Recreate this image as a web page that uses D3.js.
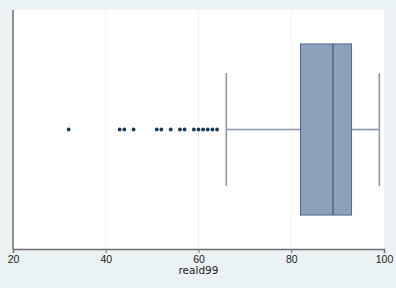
<!DOCTYPE html>
<html>
<head>
<meta charset="utf-8">
<script src="https://cdn.jsdelivr.net/npm/d3@7"></script>
<style>
body{margin:0;background:#eaf2f3;}
svg{display:block;font-family:"DejaVu Sans",sans-serif;}
</style>
</head>
<body>
<div class="viz"></div>
<script>
// reald99 summary
const boxStats=[{q1:82,median:89,q3:93,lowWhisker:66,highWhisker:99}];
const outliers=[32,43,44,46,51,52,54,56,57,59,60,61,62,63,64];
const xTicks=[20,40,60,80,100];
const xLabel='reald99';

const width=396;
const height=288;
const margin={left:13,right:12,top:10,bottom:39};

const svg=d3.select('.viz').append('svg')
	.attr('width',width)
	.attr('height',height)

svg.append('rect')
	.attr('width',width).attr('height',height)
	.attr('fill','#eaf2f3')

const x=d3.scaleLinear()
	.domain([20,100])
	.range([margin.left,width-margin.right])

const y=d3.scaleLinear()
	.domain([0,1])
	.range([height-margin.bottom,margin.top])

// plot region
svg.append('rect')
	.attr('x',x(20)).attr('y',y(1))
	.attr('width',x(100)-x(20)).attr('height',y(0)-y(1))
	.attr('fill','white')

// grid
svg.selectAll('.grid')
	.data(xTicks.slice(1,-1))
	.join('line')
	.attr('class','grid')
	.attr('x1',d=>x(d)).attr('x2',d=>x(d))
	.attr('y1',y(1)).attr('y2',y(0))
	.attr('stroke','#eef3f4')
	.attr('stroke-width',1)

const mid=y(0.5);

boxStats.forEach(b=>{
	const g=svg.append('g')
	g.append('line')
		.attr('x1',x(b.lowWhisker)).attr('x2',x(b.q1))
		.attr('y1',mid).attr('y2',mid)
		.attr('stroke','#8a9aa6').attr('stroke-width',1.6)
	g.append('line')
		.attr('x1',x(b.q3)).attr('x2',x(b.highWhisker))
		.attr('y1',mid).attr('y2',mid)
		.attr('stroke','#8a9aa6').attr('stroke-width',1.6)
	g.selectAll('.cap')
		.data([b.lowWhisker,b.highWhisker])
		.join('line')
		.attr('x1',d=>x(d)).attr('x2',d=>x(d))
		.attr('y1',y(0.736)).attr('y2',y(0.264))
		.attr('stroke','#8a9aa6').attr('stroke-width',1.6)
	g.append('rect')
		.attr('x',x(b.q1)).attr('y',y(0.858))
		.attr('width',x(b.q3)-x(b.q1))
		.attr('height',y(0.142)-y(0.858))
		.attr('fill','#8da2ba')
		.attr('stroke','#4e6a8d').attr('stroke-width',1)
	g.append('line')
		.attr('x1',x(b.median)).attr('x2',x(b.median))
		.attr('y1',y(0.858)).attr('y2',y(0.142))
		.attr('stroke','#4e6a8d').attr('stroke-width',1.6)
})

svg.selectAll('.out')
	.data(outliers)
	.join('circle')
	.attr('class','out')
	.attr('cx',d=>x(d)).attr('cy',mid)
	.attr('r',1.9)
	.attr('fill','#1a3a5a')

// axes
const xAxis=d3.axisBottom(x).tickValues(xTicks).tickSize(4).tickPadding(3)
const ax=svg.append('g')
	.attr('transform',`translate(0,${y(0)})`)
	.call(xAxis)
ax.select('.domain').attr('stroke','#6e6e6e').attr('stroke-width',1.5)
ax.selectAll('.tick line').attr('stroke','#6e6e6e')
ax.selectAll('.tick text').attr('font-size',10.5).attr('fill','#222')

svg.append('line')
	.attr('x1',x(20)).attr('x2',x(20))
	.attr('y1',y(1)).attr('y2',y(0))
	.attr('stroke','#6e6e6e').attr('stroke-width',1.5)

svg.append('text')
	.attr('x',x(60)).attr('y',274)
	.attr('text-anchor','middle')
	.attr('font-size',10.5)
	.attr('fill','#222')
	.text(xLabel)
</script>
</body>
</html>
